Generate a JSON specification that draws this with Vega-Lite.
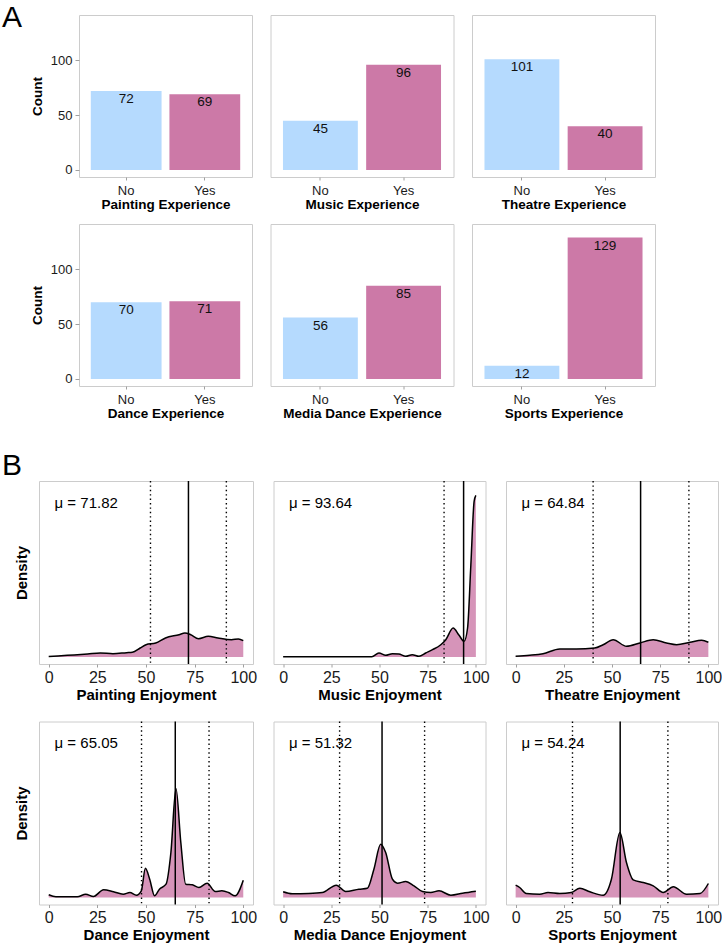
{
  "$schema": "https://vega.github.io/schema/vega-lite/v6.json",
  "padding": {"left": 2, "top": 2, "right": 0, "bottom": 0},
  "background": "white",
  "config": {
    "font": "Liberation Sans",
    "view": {"stroke": "#CCCCCC", "strokeWidth": 1},
    "axis": {"grid": false, "domain": false, "tickColor": "#A0A0A0", "labelColor": "#1A1A1A", "titleColor": "#000000", "titleFontWeight": "bold", "labelFont": "Liberation Sans", "titleFont": "Liberation Sans"},
    "title": {"font": "Liberation Sans", "fontWeight": "normal", "color": "#000000"}
  },
  "datasets": {
    "counts": [
      {"q": "Painting Experience", "r": "No", "n": 72}, {"q": "Painting Experience", "r": "Yes", "n": 69},
      {"q": "Music Experience", "r": "No", "n": 45}, {"q": "Music Experience", "r": "Yes", "n": 96},
      {"q": "Theatre Experience", "r": "No", "n": 101}, {"q": "Theatre Experience", "r": "Yes", "n": 40},
      {"q": "Dance Experience", "r": "No", "n": 70}, {"q": "Dance Experience", "r": "Yes", "n": 71},
      {"q": "Media Dance Experience", "r": "No", "n": 56}, {"q": "Media Dance Experience", "r": "Yes", "n": 85},
      {"q": "Sports Experience", "r": "No", "n": 12}, {"q": "Sports Experience", "r": "Yes", "n": 129}
    ],
    "stats": [
      {"p": "Painting", "x": 71.82, "label": "μ = 71.82"},
      {"p": "Music", "x": 93.64, "label": "μ = 93.64"},
      {"p": "Theatre", "x": 64.84, "label": "μ = 64.84"},
      {"p": "Dance", "x": 65.05, "label": "μ = 65.05"},
      {"p": "Media", "x": 51.32, "label": "μ = 51.32"},
      {"p": "Sports", "x": 54.24, "label": "μ = 54.24"}
    ],
    "sd": [
      {"p": "Painting", "x": 52.3}, {"p": "Painting", "x": 91.3},
      {"p": "Music", "x": 83.5},
      {"p": "Theatre", "x": 40.2}, {"p": "Theatre", "x": 89.9},
      {"p": "Dance", "x": 47.7}, {"p": "Dance", "x": 82.4},
      {"p": "Media", "x": 29.3}, {"p": "Media", "x": 73.4},
      {"p": "Sports", "x": 29.5}, {"p": "Sports", "x": 79.0}
    ],
    "dens": [
      {"p": "Painting", "x": 0, "d": 0.0005}, {"p": "Painting", "x": 9.6, "d": 0.0017}, {"p": "Painting", "x": 20, "d": 0.003}, {"p": "Painting", "x": 26.5, "d": 0.004}, {"p": "Painting", "x": 33, "d": 0.0033}, {"p": "Painting", "x": 40, "d": 0.0043}, {"p": "Painting", "x": 43, "d": 0.0047}, {"p": "Painting", "x": 47, "d": 0.009}, {"p": "Painting", "x": 50, "d": 0.0123}, {"p": "Painting", "x": 55, "d": 0.014}, {"p": "Painting", "x": 60, "d": 0.019}, {"p": "Painting", "x": 67, "d": 0.0223}, {"p": "Painting", "x": 70, "d": 0.024}, {"p": "Painting", "x": 73, "d": 0.0223}, {"p": "Painting", "x": 77, "d": 0.0183}, {"p": "Painting", "x": 82, "d": 0.0207}, {"p": "Painting", "x": 87, "d": 0.019}, {"p": "Painting", "x": 94, "d": 0.0173}, {"p": "Painting", "x": 97.5, "d": 0.018}, {"p": "Painting", "x": 100, "d": 0.0163},
      {"p": "Music", "x": 0, "d": 0.0003}, {"p": "Music", "x": 20, "d": 0.0003}, {"p": "Music", "x": 40, "d": 0.0003}, {"p": "Music", "x": 46, "d": 0.0003}, {"p": "Music", "x": 49.7, "d": 0.004}, {"p": "Music", "x": 53.2, "d": 0.0017}, {"p": "Music", "x": 56.7, "d": 0.0033}, {"p": "Music", "x": 60, "d": 0.003}, {"p": "Music", "x": 63.6, "d": 0.0007}, {"p": "Music", "x": 67, "d": 0.0023}, {"p": "Music", "x": 70.5, "d": 0.0007}, {"p": "Music", "x": 74, "d": 0.004}, {"p": "Music", "x": 77.5, "d": 0.0073}, {"p": "Music", "x": 81.8, "d": 0.0123}, {"p": "Music", "x": 84.4, "d": 0.0173}, {"p": "Music", "x": 88.2, "d": 0.029}, {"p": "Music", "x": 91.3, "d": 0.0217}, {"p": "Music", "x": 93.9, "d": 0.0157}, {"p": "Music", "x": 95.7, "d": 0.029}, {"p": "Music", "x": 97.4, "d": 0.092}, {"p": "Music", "x": 99.1, "d": 0.1557}, {"p": "Music", "x": 100, "d": 0.1617},
      {"p": "Theatre", "x": 0, "d": 0.0007}, {"p": "Theatre", "x": 7.3, "d": 0.0017}, {"p": "Theatre", "x": 14.2, "d": 0.0033}, {"p": "Theatre", "x": 22.9, "d": 0.008}, {"p": "Theatre", "x": 31.5, "d": 0.008}, {"p": "Theatre", "x": 41, "d": 0.009}, {"p": "Theatre", "x": 45.4, "d": 0.0123}, {"p": "Theatre", "x": 50.6, "d": 0.0173}, {"p": "Theatre", "x": 57.5, "d": 0.0107}, {"p": "Theatre", "x": 64.5, "d": 0.014}, {"p": "Theatre", "x": 71.4, "d": 0.0173}, {"p": "Theatre", "x": 78.3, "d": 0.014}, {"p": "Theatre", "x": 83.5, "d": 0.0123}, {"p": "Theatre", "x": 90.5, "d": 0.0147}, {"p": "Theatre", "x": 96.5, "d": 0.0167}, {"p": "Theatre", "x": 100, "d": 0.0147},
      {"p": "Dance", "x": 0, "d": 0.0027}, {"p": "Dance", "x": 3.7, "d": 0.0007}, {"p": "Dance", "x": 14.7, "d": 0.0007}, {"p": "Dance", "x": 19, "d": 0.0033}, {"p": "Dance", "x": 23, "d": 0.001}, {"p": "Dance", "x": 28.2, "d": 0.0077}, {"p": "Dance", "x": 33.3, "d": 0.0057}, {"p": "Dance", "x": 38.3, "d": 0.0033}, {"p": "Dance", "x": 41.7, "d": 0.005}, {"p": "Dance", "x": 45.1, "d": 0.0023}, {"p": "Dance", "x": 47.6, "d": 0.0067}, {"p": "Dance", "x": 49.7, "d": 0.0293}, {"p": "Dance", "x": 51.9, "d": 0.0183}, {"p": "Dance", "x": 54.4, "d": 0.0017}, {"p": "Dance", "x": 56.9, "d": 0.0083}, {"p": "Dance", "x": 60.3, "d": 0.0133}, {"p": "Dance", "x": 62.8, "d": 0.045}, {"p": "Dance", "x": 65.4, "d": 0.109}, {"p": "Dance", "x": 67.9, "d": 0.055}, {"p": "Dance", "x": 70.4, "d": 0.0133}, {"p": "Dance", "x": 73.8, "d": 0.0127}, {"p": "Dance", "x": 77.2, "d": 0.01}, {"p": "Dance", "x": 81.4, "d": 0.0143}, {"p": "Dance", "x": 85.6, "d": 0.006}, {"p": "Dance", "x": 89, "d": 0.0067}, {"p": "Dance", "x": 92.4, "d": 0.005}, {"p": "Dance", "x": 95.8, "d": 0.0017}, {"p": "Dance", "x": 100, "d": 0.0173},
      {"p": "Media", "x": 0, "d": 0.0057}, {"p": "Media", "x": 4.7, "d": 0.0037}, {"p": "Media", "x": 13.3, "d": 0.004}, {"p": "Media", "x": 20.3, "d": 0.005}, {"p": "Media", "x": 27.6, "d": 0.0123}, {"p": "Media", "x": 32.4, "d": 0.006}, {"p": "Media", "x": 39.3, "d": 0.0083}, {"p": "Media", "x": 43.7, "d": 0.0093}, {"p": "Media", "x": 47.1, "d": 0.0283}, {"p": "Media", "x": 50.6, "d": 0.0533}, {"p": "Media", "x": 53.2, "d": 0.045}, {"p": "Media", "x": 56.7, "d": 0.0183}, {"p": "Media", "x": 59.3, "d": 0.0143}, {"p": "Media", "x": 63.6, "d": 0.016}, {"p": "Media", "x": 67.9, "d": 0.0117}, {"p": "Media", "x": 72.3, "d": 0.006}, {"p": "Media", "x": 76.6, "d": 0.005}, {"p": "Media", "x": 80.9, "d": 0.0067}, {"p": "Media", "x": 87, "d": 0.0023}, {"p": "Media", "x": 93.1, "d": 0.0043}, {"p": "Media", "x": 100, "d": 0.0063},
      {"p": "Sports", "x": 0, "d": 0.0123}, {"p": "Sports", "x": 2.1, "d": 0.01}, {"p": "Sports", "x": 5.5, "d": 0.004}, {"p": "Sports", "x": 12.5, "d": 0.0033}, {"p": "Sports", "x": 16.8, "d": 0.005}, {"p": "Sports", "x": 22.9, "d": 0.004}, {"p": "Sports", "x": 28.9, "d": 0.005}, {"p": "Sports", "x": 33.3, "d": 0.0093}, {"p": "Sports", "x": 38.5, "d": 0.0057}, {"p": "Sports", "x": 45.4, "d": 0.0023}, {"p": "Sports", "x": 49.7, "d": 0.0183}, {"p": "Sports", "x": 54.1, "d": 0.065}, {"p": "Sports", "x": 57.5, "d": 0.035}, {"p": "Sports", "x": 61, "d": 0.0177}, {"p": "Sports", "x": 66.2, "d": 0.015}, {"p": "Sports", "x": 71.4, "d": 0.0117}, {"p": "Sports", "x": 76.6, "d": 0.005}, {"p": "Sports", "x": 81.8, "d": 0.0107}, {"p": "Sports", "x": 88.7, "d": 0.0033}, {"p": "Sports", "x": 95.7, "d": 0.004}, {"p": "Sports", "x": 100, "d": 0.014}
    ]
  },
  "spacing": 30,
  "vconcat": [
    {
      "title": {"text": "A", "anchor": "start", "fontSize": 30, "baseline": "alphabetic", "offset": 0, "dx": 0, "dy": 42},
      "spacing": 0,
      "hconcat": [
        {"width": 27, "height": 1, "data": {"values": []}, "mark": {"type": "point", "opacity": 0}, "encoding": {}, "view": {"stroke": null}},
        {
          "spacing": 12,
          "vconcat": [
            {
              "spacing": 16.5,
              "hconcat": [
                {
                  "width": 173, "height": 162,
                  "data": {"name": "counts"},
                  "transform": [{"filter": "datum.q == 'Painting Experience'"}],
                  "encoding": {
                    "x": {"field": "r", "type": "nominal", "title": "Painting Experience", "scale": {"paddingInner": 0.1, "paddingOuter": 0.15}, "axis": {"labelAngle": 0, "labelFontSize": 13, "titleFontSize": 13.5, "tickSize": 3, "labelPadding": 4, "titlePadding": 0}},
                    "y": {"field": "n", "type": "quantitative", "title": "Count", "scale": {"domain": [-6.4, 141.4], "nice": false, "zero": false}, "axis": {"values": [0, 50, 100], "labelFontSize": 13, "titleFontSize": 13.5, "tickSize": 4, "labelPadding": 3, "titlePadding": 6}}
                  },
                  "layer": [
                    {"mark": {"type": "bar"}, "encoding": {"y2": {"datum": 0}, "color": {"field": "r", "type": "nominal", "scale": {"domain": ["No", "Yes"], "range": ["#B5DAFE", "#CC79A7"]}, "legend": null}}},
                    {"mark": {"type": "text", "baseline": "middle", "dy": 8, "fontSize": 13.5, "color": "#111111"}, "encoding": {"text": {"field": "n", "type": "quantitative"}}}
                  ]
                },
                {
                  "width": 183, "height": 162,
                  "data": {"name": "counts"},
                  "transform": [{"filter": "datum.q == 'Music Experience'"}],
                  "encoding": {
                    "x": {"field": "r", "type": "nominal", "title": "Music Experience", "scale": {"paddingInner": 0.1, "paddingOuter": 0.15}, "axis": {"labelAngle": 0, "labelFontSize": 13, "titleFontSize": 13.5, "tickSize": 3, "labelPadding": 4, "titlePadding": 0}},
                    "y": {"field": "n", "type": "quantitative", "scale": {"domain": [-6.4, 141.4], "nice": false, "zero": false}, "axis": null}
                  },
                  "layer": [
                    {"mark": {"type": "bar"}, "encoding": {"y2": {"datum": 0}, "color": {"field": "r", "type": "nominal", "scale": {"domain": ["No", "Yes"], "range": ["#B5DAFE", "#CC79A7"]}, "legend": null}}},
                    {"mark": {"type": "text", "baseline": "middle", "dy": 8, "fontSize": 13.5, "color": "#111111"}, "encoding": {"text": {"field": "n", "type": "quantitative"}}}
                  ]
                },
                {
                  "width": 183, "height": 162,
                  "data": {"name": "counts"},
                  "transform": [{"filter": "datum.q == 'Theatre Experience'"}],
                  "encoding": {
                    "x": {"field": "r", "type": "nominal", "title": "Theatre Experience", "scale": {"paddingInner": 0.1, "paddingOuter": 0.15}, "axis": {"labelAngle": 0, "labelFontSize": 13, "titleFontSize": 13.5, "tickSize": 3, "labelPadding": 4, "titlePadding": 0}},
                    "y": {"field": "n", "type": "quantitative", "scale": {"domain": [-6.4, 141.4], "nice": false, "zero": false}, "axis": null}
                  },
                  "layer": [
                    {"mark": {"type": "bar"}, "encoding": {"y2": {"datum": 0}, "color": {"field": "r", "type": "nominal", "scale": {"domain": ["No", "Yes"], "range": ["#B5DAFE", "#CC79A7"]}, "legend": null}}},
                    {"mark": {"type": "text", "baseline": "middle", "dy": 8, "fontSize": 13.5, "color": "#111111"}, "encoding": {"text": {"field": "n", "type": "quantitative"}}}
                  ]
                }
              ]
            },
            {
              "spacing": 16.5,
              "hconcat": [
                {
                  "width": 173, "height": 162,
                  "data": {"name": "counts"},
                  "transform": [{"filter": "datum.q == 'Dance Experience'"}],
                  "encoding": {
                    "x": {"field": "r", "type": "nominal", "title": "Dance Experience", "scale": {"paddingInner": 0.1, "paddingOuter": 0.15}, "axis": {"labelAngle": 0, "labelFontSize": 13, "titleFontSize": 13.5, "tickSize": 3, "labelPadding": 4, "titlePadding": 0}},
                    "y": {"field": "n", "type": "quantitative", "title": "Count", "scale": {"domain": [-6.4, 141.4], "nice": false, "zero": false}, "axis": {"values": [0, 50, 100], "labelFontSize": 13, "titleFontSize": 13.5, "tickSize": 4, "labelPadding": 3, "titlePadding": 6}}
                  },
                  "layer": [
                    {"mark": {"type": "bar"}, "encoding": {"y2": {"datum": 0}, "color": {"field": "r", "type": "nominal", "scale": {"domain": ["No", "Yes"], "range": ["#B5DAFE", "#CC79A7"]}, "legend": null}}},
                    {"mark": {"type": "text", "baseline": "middle", "dy": 8, "fontSize": 13.5, "color": "#111111"}, "encoding": {"text": {"field": "n", "type": "quantitative"}}}
                  ]
                },
                {
                  "width": 183, "height": 162,
                  "data": {"name": "counts"},
                  "transform": [{"filter": "datum.q == 'Media Dance Experience'"}],
                  "encoding": {
                    "x": {"field": "r", "type": "nominal", "title": "Media Dance Experience", "scale": {"paddingInner": 0.1, "paddingOuter": 0.15}, "axis": {"labelAngle": 0, "labelFontSize": 13, "titleFontSize": 13.5, "tickSize": 3, "labelPadding": 4, "titlePadding": 0}},
                    "y": {"field": "n", "type": "quantitative", "scale": {"domain": [-6.4, 141.4], "nice": false, "zero": false}, "axis": null}
                  },
                  "layer": [
                    {"mark": {"type": "bar"}, "encoding": {"y2": {"datum": 0}, "color": {"field": "r", "type": "nominal", "scale": {"domain": ["No", "Yes"], "range": ["#B5DAFE", "#CC79A7"]}, "legend": null}}},
                    {"mark": {"type": "text", "baseline": "middle", "dy": 8, "fontSize": 13.5, "color": "#111111"}, "encoding": {"text": {"field": "n", "type": "quantitative"}}}
                  ]
                },
                {
                  "width": 183, "height": 162,
                  "data": {"name": "counts"},
                  "transform": [{"filter": "datum.q == 'Sports Experience'"}],
                  "encoding": {
                    "x": {"field": "r", "type": "nominal", "title": "Sports Experience", "scale": {"paddingInner": 0.1, "paddingOuter": 0.15}, "axis": {"labelAngle": 0, "labelFontSize": 13, "titleFontSize": 13.5, "tickSize": 3, "labelPadding": 4, "titlePadding": 0}},
                    "y": {"field": "n", "type": "quantitative", "scale": {"domain": [-6.4, 141.4], "nice": false, "zero": false}, "axis": null}
                  },
                  "layer": [
                    {"mark": {"type": "bar"}, "encoding": {"y2": {"datum": 0}, "color": {"field": "r", "type": "nominal", "scale": {"domain": ["No", "Yes"], "range": ["#B5DAFE", "#CC79A7"]}, "legend": null}}},
                    {"mark": {"type": "text", "baseline": "middle", "dy": 8, "fontSize": 13.5, "color": "#111111"}, "encoding": {"text": {"field": "n", "type": "quantitative"}}}
                  ]
                }
              ]
            }
          ]
        }
      ]
    },
    {
      "title": {"text": "B", "anchor": "start", "fontSize": 30, "baseline": "alphabetic", "offset": 0, "dx": 0, "dy": 25},
      "spacing": 0,
      "hconcat": [
        {"width": 11, "height": 1, "data": {"values": []}, "mark": {"type": "point", "opacity": 0}, "encoding": {}, "view": {"stroke": null}},
        {
          "spacing": 16.5,
          "vconcat": [
            {
              "spacing": 14.5,
              "hconcat": [
                {
                  "width": 214, "height": 183,
                  "encoding": {"x": {"field": "x", "type": "quantitative", "title": "Painting Enjoyment", "scale": {"domain": [-5, 105], "nice": false, "zero": false}, "axis": {"values": [0, 25, 50, 75, 100], "labelFontSize": 16, "titleFontSize": 15, "tickSize": 3, "labelPadding": 2, "titlePadding": 2}}},
                  "layer": [
                    {"data": {"name": "dens"}, "transform": [{"filter": "datum.p == 'Painting'"}], "mark": {"type": "area", "color": "#D694B9", "interpolate": "monotone"}, "encoding": {"y": {"field": "d", "type": "quantitative", "title": "Density", "scale": {"domain": [-0.007, 0.176], "nice": false, "zero": false}, "axis": {"labels": false, "ticks": false, "titleFontSize": 15, "titlePadding": 10}}, "y2": {"datum": 0}}},
                    {"data": {"name": "dens"}, "transform": [{"filter": "datum.p == 'Painting'"}], "mark": {"type": "line", "color": "#000000", "strokeWidth": 1.5, "interpolate": "monotone"}, "encoding": {"y": {"field": "d", "type": "quantitative"}}},
                    {"data": {"name": "sd"}, "transform": [{"filter": "datum.p == 'Painting'"}], "mark": {"type": "rule", "color": "#000000", "strokeWidth": 1.4, "strokeDash": [1.4, 3]}, "encoding": {}},
                    {"data": {"name": "stats"}, "transform": [{"filter": "datum.p == 'Painting'"}], "mark": {"type": "rule", "color": "#000000", "strokeWidth": 1.5}, "encoding": {}},
                    {"data": {"name": "stats"}, "transform": [{"filter": "datum.p == 'Painting'"}], "mark": {"type": "text", "align": "left", "baseline": "middle", "fontSize": 15, "color": "#000000"}, "encoding": {"x": {"datum": 3}, "y": {"datum": 0.1545}, "text": {"field": "label", "type": "nominal"}}}
                  ]
                },
                {
                  "width": 212, "height": 183,
                  "encoding": {"x": {"field": "x", "type": "quantitative", "title": "Music Enjoyment", "scale": {"domain": [-5, 105], "nice": false, "zero": false}, "axis": {"values": [0, 25, 50, 75, 100], "labelFontSize": 16, "titleFontSize": 15, "tickSize": 3, "labelPadding": 2, "titlePadding": 2}}},
                  "layer": [
                    {"data": {"name": "dens"}, "transform": [{"filter": "datum.p == 'Music'"}], "mark": {"type": "area", "color": "#D694B9", "interpolate": "monotone"}, "encoding": {"y": {"field": "d", "type": "quantitative", "scale": {"domain": [-0.007, 0.176], "nice": false, "zero": false}, "axis": null}, "y2": {"datum": 0}}},
                    {"data": {"name": "dens"}, "transform": [{"filter": "datum.p == 'Music'"}], "mark": {"type": "line", "color": "#000000", "strokeWidth": 1.5, "interpolate": "monotone"}, "encoding": {"y": {"field": "d", "type": "quantitative"}}},
                    {"data": {"name": "sd"}, "transform": [{"filter": "datum.p == 'Music'"}], "mark": {"type": "rule", "color": "#000000", "strokeWidth": 1.4, "strokeDash": [1.4, 3]}, "encoding": {}},
                    {"data": {"name": "stats"}, "transform": [{"filter": "datum.p == 'Music'"}], "mark": {"type": "rule", "color": "#000000", "strokeWidth": 1.5}, "encoding": {}},
                    {"data": {"name": "stats"}, "transform": [{"filter": "datum.p == 'Music'"}], "mark": {"type": "text", "align": "left", "baseline": "middle", "fontSize": 15, "color": "#000000"}, "encoding": {"x": {"datum": 3}, "y": {"datum": 0.1545}, "text": {"field": "label", "type": "nominal"}}}
                  ]
                },
                {
                  "width": 212, "height": 183,
                  "encoding": {"x": {"field": "x", "type": "quantitative", "title": "Theatre Enjoyment", "scale": {"domain": [-5, 105], "nice": false, "zero": false}, "axis": {"values": [0, 25, 50, 75, 100], "labelFontSize": 16, "titleFontSize": 15, "tickSize": 3, "labelPadding": 2, "titlePadding": 2}}},
                  "layer": [
                    {"data": {"name": "dens"}, "transform": [{"filter": "datum.p == 'Theatre'"}], "mark": {"type": "area", "color": "#D694B9", "interpolate": "monotone"}, "encoding": {"y": {"field": "d", "type": "quantitative", "scale": {"domain": [-0.007, 0.176], "nice": false, "zero": false}, "axis": null}, "y2": {"datum": 0}}},
                    {"data": {"name": "dens"}, "transform": [{"filter": "datum.p == 'Theatre'"}], "mark": {"type": "line", "color": "#000000", "strokeWidth": 1.5, "interpolate": "monotone"}, "encoding": {"y": {"field": "d", "type": "quantitative"}}},
                    {"data": {"name": "sd"}, "transform": [{"filter": "datum.p == 'Theatre'"}], "mark": {"type": "rule", "color": "#000000", "strokeWidth": 1.4, "strokeDash": [1.4, 3]}, "encoding": {}},
                    {"data": {"name": "stats"}, "transform": [{"filter": "datum.p == 'Theatre'"}], "mark": {"type": "rule", "color": "#000000", "strokeWidth": 1.5}, "encoding": {}},
                    {"data": {"name": "stats"}, "transform": [{"filter": "datum.p == 'Theatre'"}], "mark": {"type": "text", "align": "left", "baseline": "middle", "fontSize": 15, "color": "#000000"}, "encoding": {"x": {"datum": 3}, "y": {"datum": 0.1545}, "text": {"field": "label", "type": "nominal"}}}
                  ]
                }
              ]
            },
            {
              "spacing": 14.5,
              "hconcat": [
                {
                  "width": 214, "height": 183,
                  "encoding": {"x": {"field": "x", "type": "quantitative", "title": "Dance Enjoyment", "scale": {"domain": [-5, 105], "nice": false, "zero": false}, "axis": {"values": [0, 25, 50, 75, 100], "labelFontSize": 16, "titleFontSize": 15, "tickSize": 3, "labelPadding": 2, "titlePadding": 2}}},
                  "layer": [
                    {"data": {"name": "dens"}, "transform": [{"filter": "datum.p == 'Dance'"}], "mark": {"type": "area", "color": "#D694B9", "interpolate": "monotone"}, "encoding": {"y": {"field": "d", "type": "quantitative", "title": "Density", "scale": {"domain": [-0.007, 0.176], "nice": false, "zero": false}, "axis": {"labels": false, "ticks": false, "titleFontSize": 15, "titlePadding": 10}}, "y2": {"datum": 0}}},
                    {"data": {"name": "dens"}, "transform": [{"filter": "datum.p == 'Dance'"}], "mark": {"type": "line", "color": "#000000", "strokeWidth": 1.5, "interpolate": "monotone"}, "encoding": {"y": {"field": "d", "type": "quantitative"}}},
                    {"data": {"name": "sd"}, "transform": [{"filter": "datum.p == 'Dance'"}], "mark": {"type": "rule", "color": "#000000", "strokeWidth": 1.4, "strokeDash": [1.4, 3]}, "encoding": {}},
                    {"data": {"name": "stats"}, "transform": [{"filter": "datum.p == 'Dance'"}], "mark": {"type": "rule", "color": "#000000", "strokeWidth": 1.5}, "encoding": {}},
                    {"data": {"name": "stats"}, "transform": [{"filter": "datum.p == 'Dance'"}], "mark": {"type": "text", "align": "left", "baseline": "middle", "fontSize": 15, "color": "#000000"}, "encoding": {"x": {"datum": 3}, "y": {"datum": 0.1545}, "text": {"field": "label", "type": "nominal"}}}
                  ]
                },
                {
                  "width": 212, "height": 183,
                  "encoding": {"x": {"field": "x", "type": "quantitative", "title": "Media Dance Enjoyment", "scale": {"domain": [-5, 105], "nice": false, "zero": false}, "axis": {"values": [0, 25, 50, 75, 100], "labelFontSize": 16, "titleFontSize": 15, "tickSize": 3, "labelPadding": 2, "titlePadding": 2}}},
                  "layer": [
                    {"data": {"name": "dens"}, "transform": [{"filter": "datum.p == 'Media'"}], "mark": {"type": "area", "color": "#D694B9", "interpolate": "monotone"}, "encoding": {"y": {"field": "d", "type": "quantitative", "scale": {"domain": [-0.007, 0.176], "nice": false, "zero": false}, "axis": null}, "y2": {"datum": 0}}},
                    {"data": {"name": "dens"}, "transform": [{"filter": "datum.p == 'Media'"}], "mark": {"type": "line", "color": "#000000", "strokeWidth": 1.5, "interpolate": "monotone"}, "encoding": {"y": {"field": "d", "type": "quantitative"}}},
                    {"data": {"name": "sd"}, "transform": [{"filter": "datum.p == 'Media'"}], "mark": {"type": "rule", "color": "#000000", "strokeWidth": 1.4, "strokeDash": [1.4, 3]}, "encoding": {}},
                    {"data": {"name": "stats"}, "transform": [{"filter": "datum.p == 'Media'"}], "mark": {"type": "rule", "color": "#000000", "strokeWidth": 1.5}, "encoding": {}},
                    {"data": {"name": "stats"}, "transform": [{"filter": "datum.p == 'Media'"}], "mark": {"type": "text", "align": "left", "baseline": "middle", "fontSize": 15, "color": "#000000"}, "encoding": {"x": {"datum": 3}, "y": {"datum": 0.1545}, "text": {"field": "label", "type": "nominal"}}}
                  ]
                },
                {
                  "width": 212, "height": 183,
                  "encoding": {"x": {"field": "x", "type": "quantitative", "title": "Sports Enjoyment", "scale": {"domain": [-5, 105], "nice": false, "zero": false}, "axis": {"values": [0, 25, 50, 75, 100], "labelFontSize": 16, "titleFontSize": 15, "tickSize": 3, "labelPadding": 2, "titlePadding": 2}}},
                  "layer": [
                    {"data": {"name": "dens"}, "transform": [{"filter": "datum.p == 'Sports'"}], "mark": {"type": "area", "color": "#D694B9", "interpolate": "monotone"}, "encoding": {"y": {"field": "d", "type": "quantitative", "scale": {"domain": [-0.007, 0.176], "nice": false, "zero": false}, "axis": null}, "y2": {"datum": 0}}},
                    {"data": {"name": "dens"}, "transform": [{"filter": "datum.p == 'Sports'"}], "mark": {"type": "line", "color": "#000000", "strokeWidth": 1.5, "interpolate": "monotone"}, "encoding": {"y": {"field": "d", "type": "quantitative"}}},
                    {"data": {"name": "sd"}, "transform": [{"filter": "datum.p == 'Sports'"}], "mark": {"type": "rule", "color": "#000000", "strokeWidth": 1.4, "strokeDash": [1.4, 3]}, "encoding": {}},
                    {"data": {"name": "stats"}, "transform": [{"filter": "datum.p == 'Sports'"}], "mark": {"type": "rule", "color": "#000000", "strokeWidth": 1.5}, "encoding": {}},
                    {"data": {"name": "stats"}, "transform": [{"filter": "datum.p == 'Sports'"}], "mark": {"type": "text", "align": "left", "baseline": "middle", "fontSize": 15, "color": "#000000"}, "encoding": {"x": {"datum": 3}, "y": {"datum": 0.1545}, "text": {"field": "label", "type": "nominal"}}}
                  ]
                }
              ]
            }
          ]
        }
      ]
    }
  ]
}
